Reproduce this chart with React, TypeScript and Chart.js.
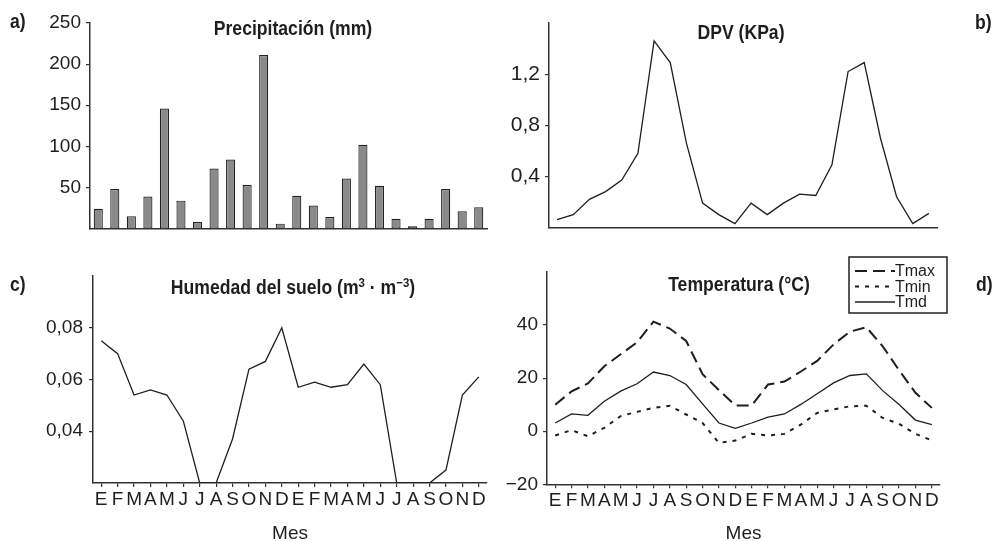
import React, { useEffect, useRef } from 'react';
import { Chart, registerables } from 'chart.js';

Chart.register(...registerables);

// ---------- data ----------
const months = ['E', 'F', 'M', 'A', 'M', 'J', 'J', 'A', 'S', 'O', 'N', 'D', 'E', 'F', 'M', 'A', 'M', 'J', 'J', 'A', 'S', 'O', 'N', 'D'];
const precipitacion = [24, 48, 15, 39, 146, 34, 8, 73, 84, 53, 211, 6, 40, 28, 14, 61, 102, 52, 12, 3, 12, 48, 21, 26];
const dpv = [0.06, 0.1, 0.22, 0.28, 0.37, 0.58, 1.46, 1.29, 0.66, 0.19, 0.1, 0.03, 0.19, 0.1, 0.19, 0.26, 0.25, 0.49, 1.22, 1.29, 0.7, 0.24, 0.03, 0.11];
const humedad = [0.075, 0.07, 0.054, 0.056, 0.054, 0.044, 0.02, 0.02, 0.037, 0.064, 0.067, 0.08, 0.057, 0.059, 0.057, 0.058, 0.066, 0.058, 0.02, 0.02, 0.02, 0.025, 0.054, 0.061];
const tmax = [10, 15, 18, 24.5, 29, 33.5, 41.3, 38.7, 34, 21.5, 15.5, 9.7, 9.7, 17.6, 18.7, 22.5, 26.5, 32.7, 37.5, 39.2, 32, 23, 14.5, 8.8];
const tmin = [-1.6, 0.4, -1.9, 1.3, 5.7, 7.3, 8.8, 9.6, 6.3, 3.1, -4.4, -3.5, -1, -1.6, -1, 2.5, 6.9, 8.2, 9.4, 9.6, 5, 2.8, -1, -3.5];
const tmd = [3.1, 6.5, 6, 11.3, 15.1, 17.9, 22.3, 21, 17.6, 10.3, 3.1, 1.1, 3.1, 5.3, 6.5, 10.1, 14.1, 18.2, 21, 21.6, 15.3, 10.1, 4.2, 2.5];

const precipTicks = [50, 100, 150, 200, 250];
const dpvTicks = [0.4, 0.8, 1.2];
const humedadTicks = [0.04, 0.06, 0.08];
const tempTicks = [-20, 0, 20, 40];

// ---------- styles ----------
const AXIS = '#333';
const INK = '#1e1e1e';
const FONT = "'Liberation Sans', Arial, sans-serif";

const near = (v: number, list: number[]) => list.some((t) => Math.abs(t - v) < 1e-6);

function yAxis(min: number, max: number, step: number, width: number, shown: number[], fmt: (v: number) => string, pad = 5, size = 19) {
  return {
    min,
    max,
    afterFit: (s: any) => { s.width = width; },
    border: { display: true, color: AXIS, width: 1.5 },
    grid: { display: true, drawOnChartArea: false, drawTicks: true, tickLength: 4, color: AXIS, lineWidth: 1.2 },
    ticks: {
      stepSize: step,
      padding: pad,
      color: INK,
      font: { family: FONT, size },
      callback: (v: any) => (near(Number(v), shown) ? fmt(Number(v)) : null),
    },
  };
}

function xAxisPlain(height: number) {
  return {
    offset: true,
    afterFit: (s: any) => { s.height = height; },
    border: { display: true, color: AXIS, width: 1.5 },
    grid: { display: false },
    ticks: { display: false },
  };
}

function xAxisMonths(height: number) {
  return {
    offset: true,
    afterFit: (s: any) => { s.height = height; },
    border: { display: true, color: AXIS, width: 1.5 },
    grid: { display: true, offset: false, drawOnChartArea: false, drawTicks: true, tickLength: 4, color: AXIS, lineWidth: 1.2 },
    ticks: { autoSkip: false, maxRotation: 0, minRotation: 0, padding: 1, color: INK, font: { family: FONT, size: 19 } },
    title: { display: true, text: 'Mes', color: INK, font: { family: FONT, size: 19, lineHeight: 1.2 }, padding: { top: 0, bottom: 0 } },
  };
}

const comma = (d: number) => (v: number) => v.toFixed(d).replace('.', ',');

const legendPlugin = {
  id: 'boxLegend',
  afterDraw(chart: any) {
    const ctx = chart.ctx;
    const x0 = 351, y0 = 12, w = 98, h = 56;
    ctx.save();
    ctx.strokeStyle = '#222';
    ctx.lineWidth = 1.5;
    ctx.setLineDash([]);
    ctx.strokeRect(x0, y0, w, h);
    chart.data.datasets.forEach((ds: any, i: number) => {
      const y = y0 + 14 + i * 15.5;
      ctx.strokeStyle = ds.borderColor;
      ctx.lineWidth = ds.borderWidth;
      ctx.setLineDash(ds.borderDash || []);
      ctx.beginPath();
      ctx.moveTo(x0 + 6, y);
      ctx.lineTo(x0 + 46, y);
      ctx.stroke();
      ctx.setLineDash([]);
      ctx.fillStyle = INK;
      ctx.font = `16px ${FONT}`;
      ctx.textBaseline = 'middle';
      ctx.textAlign = 'left';
      ctx.fillText(ds.label, x0 + 46, y + 1);
    });
    ctx.restore();
  },
};

const baseOptions = (padding: any) => ({
  responsive: false,
  animation: false as const,
  events: [] as any[],
  layout: { padding },
  plugins: { legend: { display: false }, tooltip: { enabled: false }, title: { display: false } },
});

function ChartPanel({ left, top, width, height, make }: { left: number; top: number; width: number; height: number; make: () => any }) {
  const ref = useRef<HTMLCanvasElement | null>(null);
  useEffect(() => {
    if (!ref.current) return;
    const chart = new Chart(ref.current, make());
    return () => chart.destroy();
  }, []);
  return (
    <canvas
      ref={ref}
      width={width}
      height={height}
      style={{ position: 'absolute', left, top, width, height }}
    />
  );
}

function Label({ x, y, children, center = false, size = 20 }: any) {
  return (
    <div
      style={{
        position: 'absolute',
        left: x,
        top: y,
        transform: center ? 'translateX(-50%) scaleX(0.88)' : 'scaleX(0.88)',
        transformOrigin: center ? '50% 50%' : '0 50%',
        fontFamily: FONT,
        fontWeight: 'bold',
        fontSize: size,
        lineHeight: `${size}px`,
        color: INK,
        whiteSpace: 'nowrap',
      }}
    >
      {children}
    </div>
  );
}

const supStyle = { fontSize: 13, lineHeight: 0, verticalAlign: '0.55em' };

export default function App() {
  const makeA = () => ({
    type: 'bar',
    data: {
      labels: months,
      datasets: [{
        data: precipitacion,
        backgroundColor: '#8a8a8a',
        borderColor: '#222',
        borderWidth: 1.2,
        borderSkipped: false,
        barPercentage: 0.55,
        categoryPercentage: 1,
      }],
    },
    options: {
      ...baseOptions({ top: 23, right: 11, left: 0, bottom: 0 }),
      scales: {
        x: xAxisPlain(10),
        y: yAxis(0, 250, 50, 90, precipTicks, (v) => String(v), 5, 19),
      },
    },
  });

  const makeB = () => ({
    type: 'line',
    data: {
      labels: months,
      datasets: [{ data: dpv, borderColor: INK, borderWidth: 1.3, pointRadius: 0, tension: 0 }],
    },
    options: {
      ...baseOptions({ top: 23, right: 59, left: 0, bottom: 0 }),
      scales: {
        x: xAxisPlain(9),
        y: yAxis(0, 1.6, 0.4, 51, dpvTicks, comma(1), 5, 21),
      },
    },
  });

  const makeC = () => ({
    type: 'line',
    data: {
      labels: months,
      datasets: [{ data: humedad, borderColor: INK, borderWidth: 1.3, pointRadius: 0, tension: 0 }],
    },
    options: {
      ...baseOptions({ top: 31, right: 11, left: 0, bottom: 0 }),
      scales: {
        x: xAxisMonths(62),
        y: yAxis(0.02, 0.1, 0.02, 93, humedadTicks, comma(2), 6, 19),
      },
    },
  });

  const makeD = () => ({
    type: 'line',
    data: {
      labels: months,
      datasets: [
        { label: 'Tmax', data: tmax, borderColor: INK, borderWidth: 2, borderDash: [12, 6], pointRadius: 0, tension: 0 },
        { label: 'Tmin', data: tmin, borderColor: INK, borderWidth: 2, borderDash: [4, 6], pointRadius: 0, tension: 0 },
        { label: 'Tmd', data: tmd, borderColor: INK, borderWidth: 1.3, pointRadius: 0, tension: 0 },
      ],
    },
    options: {
      ...baseOptions({ top: 27, right: 56, left: 0, bottom: 0 }),
      scales: {
        x: xAxisMonths(60.7),
        y: yAxis(-20, 60, 20, 49, tempTicks, (v) => (v < 0 ? '\u2212' + Math.abs(v) : String(v)), 5, 19),
      },
    },
    plugins: [legendPlugin],
  });

  return (
    <div style={{ position: 'absolute', left: 0, top: 0, width: 996, height: 541, background: '#fff', overflow: 'hidden' }}>
      <ChartPanel left={0} top={0} width={498} height={245} make={makeA} />
      <ChartPanel left={498} top={0} width={498} height={245} make={makeB} />
      <ChartPanel left={0} top={245} width={498} height={300} make={makeC} />
      <ChartPanel left={498} top={245} width={498} height={300} make={makeD} />

      <Label x={10} y={10.5}>a)</Label>
      <Label x={975} y={11.5}>b)</Label>
      <Label x={10} y={274}>c)</Label>
      <Label x={976} y={274}>d)</Label>

      <Label x={292.5} y={18} center>Precipitación (mm)</Label>
      <Label x={741} y={22} center>DPV (KPa)</Label>
      <Label x={292.5} y={277} center>
        Humedad del suelo (m<sup style={supStyle}>3</sup> · m<sup style={supStyle}>−3</sup>)
      </Label>
      <Label x={738.8} y={274} center>Temperatura (°C)</Label>
    </div>
  );
}
